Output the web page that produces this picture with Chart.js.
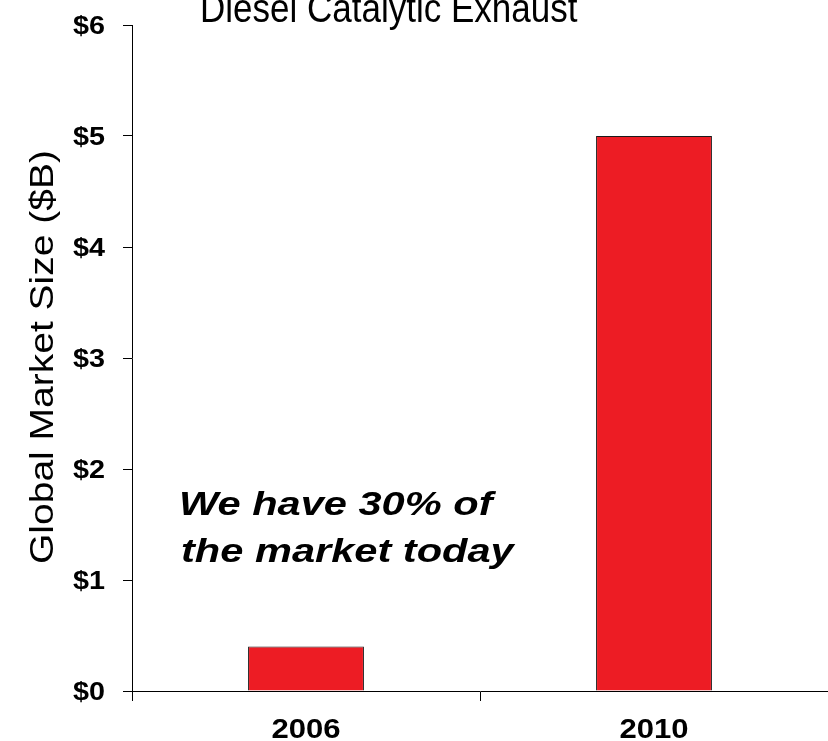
<!DOCTYPE html>
<html lang="en">
<head>
  <meta charset="UTF-8" />
  <title>Diesel Catalytic Exhaust</title>
  <script src="https://cdn.jsdelivr.net/npm/chart.js"></script>
  <style>
    html, body { margin: 0; padding: 0; background: #fff; }
    #wrap { width: 828px; height: 741px; overflow: hidden; }
  </style>
</head>
<body>
  <div id="wrap"><canvas id="marketChart" width="828" height="741"></canvas></div>

  <script>
    const years = ['2006', '2010'];
    const marketSize = [0.4, 5.0];   // $B
    const yMax = 6;
    const yStep = 1;
    const titleText = 'Diesel Catalytic Exhaust';
    const axisTitle = 'Global Market Size ($B)';
    const noteLines = ['We have 30% of', 'the market today'];

    const FONT = '"Liberation Sans", Arial, sans-serif';

    // text with a horizontal stretch factor (slide fonts are wider/narrower than plain Arial)
    function stretchText(c, text, x, y, align, sx) {
      c.save();
      c.scale(sx, 1);
      c.textAlign = align;
      c.fillText(text, x / sx, y);
      c.restore();
    }

    const textPlugin = {
      id: 'slideText',
      afterDraw(chart) {
        const c = chart.ctx;
        const xs = chart.scales.x;
        const ys = chart.scales.y;
        c.save();
        c.fillStyle = '#000';
        c.textBaseline = 'alphabetic';

        // y tick labels
        c.font = 'bold 25px ' + FONT;
        ys.ticks.forEach(t => {
          const py = ys.getPixelForValue(t.value);
          stretchText(c, '$' + t.value, 105, py + 9, 'right', 1.15);
        });

        // category labels
        c.font = 'bold 27px ' + FONT;
        years.forEach((lab, i) => {
          stretchText(c, lab, xs.getPixelForValue(i), 738, 'center', 1.15);
        });

        // title, partly above the top edge
        c.font = '40px ' + FONT;
        stretchText(c, titleText, 200, 22, 'left', 0.875);

        // callout
        c.font = 'italic bold 33px ' + FONT;
        stretchText(c, noteLines[0], 179, 515, 'left', 1.26);
        stretchText(c, noteLines[1], 181, 562, 'left', 1.26);

        // rotated axis title
        c.translate(53, 357);
        c.rotate(-Math.PI / 2);
        c.scale(1, 0.85);
        c.textAlign = 'center';
        c.font = '39px ' + FONT;
        c.fillText(axisTitle, 0, 0);
        c.restore();
      }
    };

    const ctx = document.getElementById('marketChart').getContext('2d');

    new Chart(ctx, {
      type: 'bar',
      data: {
        labels: years,
        datasets: [{
          data: marketSize,
          backgroundColor: '#ed1c24',
          borderColor: '#1a1a1a',
          borderWidth: 1,
          categoryPercentage: 1.0,
          barPercentage: 0.333
        }]
      },
      options: {
        responsive: false,
        animation: false,
        layout: { padding: { top: 25, right: -4, left: 0, bottom: 0 } },
        plugins: {
          legend: { display: false },
          title: { display: false },
          tooltip: { enabled: false }
        },
        scales: {
          x: {
            grid: {
              offset: true,
              drawOnChartArea: false,
              drawTicks: true,
              tickLength: 10,
              color: '#000'
            },
            border: { color: '#000', width: 1 },
            ticks: { display: false },
            afterFit(scale) { scale.height = 50; }
          },
          y: {
            min: 0,
            max: yMax,
            grid: {
              drawOnChartArea: false,
              drawTicks: true,
              tickLength: 9,
              color: '#000'
            },
            border: { color: '#000', width: 1 },
            ticks: { stepSize: yStep, display: false },
            afterFit(scale) { scale.width = 132; }
          }
        }
      },
      plugins: [textPlugin]
    });
  </script>
</body>
</html>
